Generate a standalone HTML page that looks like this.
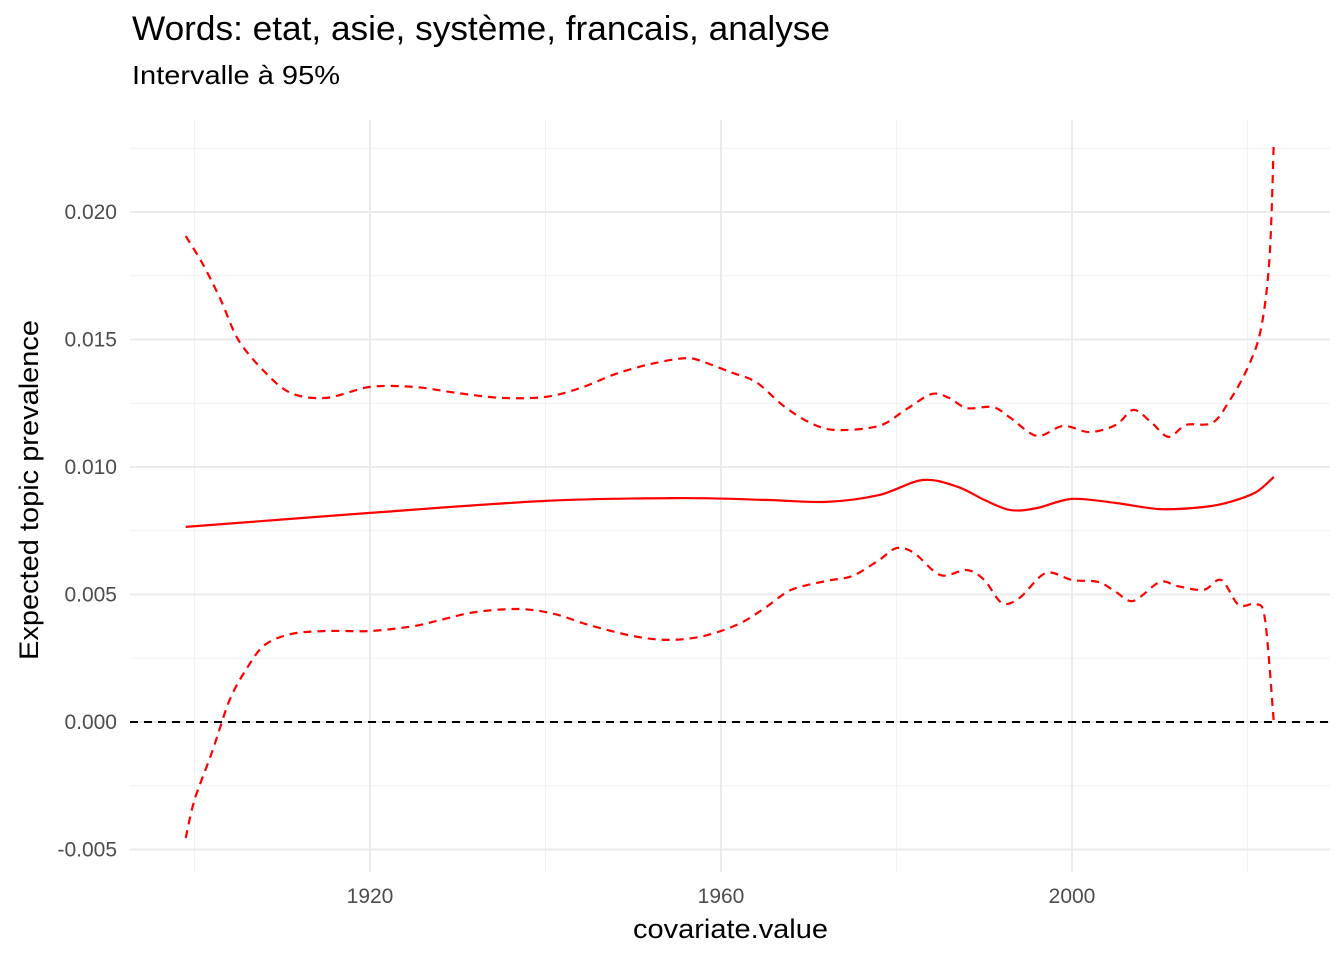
<!DOCTYPE html>
<html><head><meta charset="utf-8"><style>
html,body{margin:0;padding:0;background:#fff;}
svg{display:block;font-family:"Liberation Sans",sans-serif;}
</style></head><body>
<svg id="chart" width="1344" height="960">
<g id="grid"></g>
<g id="axes"></g>
<g id="series"></g>
<text x="132" y="40" font-size="34" textLength="698" lengthAdjust="spacingAndGlyphs" fill="#000">Words: etat, asie, système, francais, analyse</text>
<text x="132" y="84" font-size="26" textLength="208" lengthAdjust="spacingAndGlyphs" fill="#000">Intervalle à 95%</text>
<text x="633" y="938" font-size="27" textLength="195" lengthAdjust="spacingAndGlyphs" fill="#000">covariate.value</text>
<text transform="translate(38,660) rotate(-90)" font-size="27" textLength="340" lengthAdjust="spacingAndGlyphs" fill="#000">Expected topic prevalence</text>
</svg>
<script>
const meanYears=[1899,1920,1940,1955,1965,1972,1978,1983,1987,1990,1993,1996,2000,2005,2010,2015,2018,2021,2023];
const meanVals=[0.00765,0.0082,0.00867,0.00878,0.00871,0.00863,0.0089,0.00949,0.00922,0.00871,0.00831,0.00839,0.00875,0.00859,0.00835,0.00843,0.00863,0.00902,0.00961];
const upperYears=[1899,1901,1903,1905,1908,1911,1915,1920,1925,1930,1935,1940,1944,1948,1952,1956,1958,1961,1964,1967,1970,1973,1978,1981,1984,1986,1988,1991,1993,1996,1999,2002,2005,2007,2009,2011,2013,2016,2018,2020,2021.5,2022.5,2023];
const upperVals=[0.01906,0.01792,0.01655,0.01498,0.01373,0.0129,0.01271,0.01314,0.01314,0.0129,0.01271,0.01275,0.0131,0.01365,0.01404,0.01427,0.01412,0.01373,0.01333,0.01243,0.01176,0.01145,0.01161,0.01224,0.01286,0.01271,0.01231,0.01235,0.01192,0.01122,0.01161,0.01137,0.01165,0.01224,0.01176,0.01118,0.01165,0.01173,0.01263,0.01388,0.01537,0.01812,0.02275];
const lowerYears=[1899,1900,1902,1904,1906,1908,1911,1915,1920,1925,1928,1932,1937,1941,1945,1950,1954,1958,1962,1965,1968,1972,1975,1978,1980,1982,1985,1988,1990,1992,1994,1997,2000,2003,2005,2007,2010,2012,2015,2017,2019,2021,2022,2023];
const lowerVals=[-0.00455,-0.00306,-0.00118,0.00086,0.00212,0.00302,0.00345,0.00357,0.00357,0.00376,0.004,0.00431,0.00443,0.00424,0.0038,0.00337,0.00322,0.00337,0.00384,0.00447,0.00518,0.00553,0.00573,0.00635,0.00682,0.00663,0.00576,0.00596,0.00557,0.00467,0.00486,0.00584,0.00557,0.00549,0.0051,0.00475,0.00549,0.00533,0.00518,0.00557,0.00459,0.00463,0.004,0];
const xTicks=[1920,1960,2000];
const xMinor=[1900,1940,1980,2020];
const yTicks=[-0.005,0,0.005,0.01,0.015,0.02];
const yTickLabels=["-0.005","0.000","0.005","0.010","0.015","0.020"];
const yMinor=[-0.0025,0.0025,0.0075,0.0125,0.0175,0.0225];

const X=v=>370+(v-1920)*8.775;
const Y=v=>722-v*25500;
const NS="http://www.w3.org/2000/svg";
function mk(tag,attrs,parent){const e=document.createElementNS(NS,tag);for(const k in attrs)e.setAttribute(k,attrs[k]);parent.appendChild(e);return e;}
const grid=document.getElementById('grid'),axes=document.getElementById('axes'),series=document.getElementById('series');
const L=130,R=1330,T=120,B=872;
yMinor.forEach(v=>{const l=mk('line',{x1:L,x2:R,y1:Y(v),y2:Y(v),stroke:'#f2f2f2','stroke-width':1},grid);

});
xMinor.forEach(v=>{const l=mk('line',{x1:X(v),x2:X(v),y1:T,y2:B,stroke:'#f2f2f2','stroke-width':1},grid);

});
yTicks.forEach((v,i)=>{const l=mk('line',{x1:L,x2:R,y1:Y(v),y2:Y(v),stroke:'#ebebeb','stroke-width':2},grid);


const t=mk('text',{x:117,y:Y(v)+7,'font-size':21,fill:'#4d4d4d','text-anchor':'end'},axes);t.textContent=yTickLabels[i];

});
xTicks.forEach(v=>{const l=mk('line',{x1:X(v),x2:X(v),y1:T,y2:B,stroke:'#ebebeb','stroke-width':2},grid);


const t=mk('text',{x:X(v),y:903,'font-size':21,fill:'#4d4d4d','text-anchor':'middle'},axes);t.textContent=v;

});
const zl=mk('line',{x1:L,x2:R,y1:Y(0),y2:Y(0),stroke:'#000','stroke-width':2,'stroke-dasharray':'8,6'},series);


function path(xs,vs,dash,name){
const pts=xs.map((x,i)=>[X(x),Y(vs[i])]);
let d='M'+pts[0][0].toFixed(1)+','+pts[0][1].toFixed(1);
for(let i=0;i<pts.length-1;i++){const p0=pts[Math.max(0,i-1)],p1=pts[i],p2=pts[i+1],p3=pts[Math.min(pts.length-1,i+2)];
const t=0.16;
const c1=[p1[0]+(p2[0]-p0[0])*t,p1[1]+(p2[1]-p0[1])*t],c2=[p2[0]-(p3[0]-p1[0])*t,p2[1]-(p3[1]-p1[1])*t];
d+=' C'+c1[0].toFixed(1)+','+c1[1].toFixed(1)+' '+c2[0].toFixed(1)+','+c2[1].toFixed(1)+' '+p2[0].toFixed(1)+','+p2[1].toFixed(1);}
const p=mk('path',{d:d,fill:'none',stroke:'#ff0000','stroke-width':2.2,'stroke-linejoin':'round'},series);
if(dash)p.setAttribute('stroke-dasharray','8,6');

}
path(upperYears,upperVals,true,'upper-ci-line');
path(lowerYears,lowerVals,true,'lower-ci-line');
path(meanYears,meanVals,false,'mean-line');
</script>
</body></html>
